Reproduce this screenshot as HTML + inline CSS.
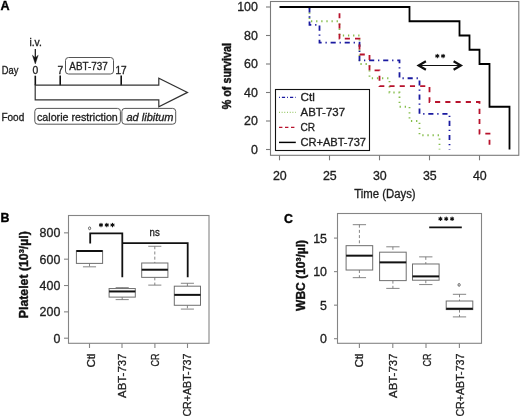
<!DOCTYPE html>
<html><head><meta charset="utf-8"><style>
html,body{margin:0;padding:0;background:#fff;overflow:hidden;}
svg{display:block;will-change:transform;}
text{font-family:"Liberation Sans", sans-serif;}
</style></head><body>
<svg width="520" height="419" viewBox="0 0 520 419" font-family='Liberation Sans, sans-serif'>
<rect width="520" height="419" fill="#fff"/>
<text x="0.5" y="10.3" font-size="12.6" font-weight="bold" fill="#000" stroke="#000" stroke-width="0.35">A</text>
<text x="29.4" y="46.0" font-size="10.3" textLength="12.4" lengthAdjust="spacingAndGlyphs" fill="#1e1e1e" stroke="#1e1e1e" stroke-width="0.32">i.v.</text>
<line x1="35.3" y1="48.9" x2="35.3" y2="60" stroke="#111" stroke-width="1.2"/>
<path d="M32.4,55.2 L35.3,57.8 L38.2,55.2 L35.3,63.9 Z" fill="#111" stroke="#111" stroke-width="0.4" stroke-linejoin="round"/>
<text x="1.8" y="73.5" font-size="10.3" textLength="16.6" lengthAdjust="spacingAndGlyphs" fill="#1e1e1e" stroke="#1e1e1e" stroke-width="0.32">Day</text>
<text x="32.6" y="73.5" font-size="10.3" fill="#1e1e1e" stroke="#1e1e1e" stroke-width="0.32">0</text>
<text x="57.5" y="73.5" font-size="10.3" fill="#1e1e1e" stroke="#1e1e1e" stroke-width="0.32">7</text>
<text x="115.4" y="73.7" font-size="10.1" textLength="11.2" lengthAdjust="spacingAndGlyphs" fill="#1e1e1e" stroke="#1e1e1e" stroke-width="0.32">17</text>
<rect x="65.5" y="57.5" width="48" height="16.5" rx="3" fill="none" stroke="#555" stroke-width="1"/>
<text x="69.3" y="69.9" font-size="10.6" textLength="38.4" lengthAdjust="spacingAndGlyphs" fill="#1e1e1e" stroke="#1e1e1e" stroke-width="0.32">ABT-737</text>
<line x1="35.3" y1="75.7" x2="35.3" y2="85.3" stroke="#111" stroke-width="1.6"/>
<line x1="60.2" y1="75.5" x2="60.2" y2="85.3" stroke="#111" stroke-width="1.6"/>
<line x1="121.2" y1="75.5" x2="121.2" y2="85.3" stroke="#111" stroke-width="1.6"/>
<path d="M35.2,85.2 L158.8,85.2 L158.8,78.3 L187.5,92.4 L158.8,106.7 L158.8,99.8 L35.2,99.8 Z" fill="none" stroke="#333" stroke-width="1.2" stroke-linejoin="miter"/>
<text x="1.4" y="120.9" font-size="10.8" textLength="22.9" lengthAdjust="spacingAndGlyphs" fill="#1e1e1e" stroke="#1e1e1e" stroke-width="0.32">Food</text>
<rect x="34.8" y="108.4" width="85.6" height="15.8" rx="3" fill="#fff" stroke="#555" stroke-width="1"/>
<rect x="121.9" y="108.4" width="53.8" height="15.8" rx="3" fill="#fff" stroke="#555" stroke-width="1"/>
<text x="37" y="121.0" font-size="10.8" textLength="80.8" lengthAdjust="spacingAndGlyphs" fill="#1e1e1e" stroke="#1e1e1e" stroke-width="0.32">calorie restriction</text>
<text x="126.5" y="120.6" font-size="10.8" font-style="italic" textLength="47.0" lengthAdjust="spacingAndGlyphs" fill="#1e1e1e" stroke="#1e1e1e" stroke-width="0.32">ad libitum</text>
<rect x="270.5" y="1.5" width="248.3" height="153.8" fill="none" stroke="#7a7a7a" stroke-width="1.1"/>
<line x1="266" y1="149.50" x2="270.5" y2="149.50" stroke="#7a7a7a" stroke-width="1.1"/>
<text x="257.9" y="153.95" font-size="12.4" text-anchor="end" fill="#1e1e1e" stroke="#1e1e1e" stroke-width="0.32">0</text>
<line x1="266" y1="121.00" x2="270.5" y2="121.00" stroke="#7a7a7a" stroke-width="1.1"/>
<text x="257.9" y="125.45" font-size="12.4" text-anchor="end" fill="#1e1e1e" stroke="#1e1e1e" stroke-width="0.32">20</text>
<line x1="266" y1="92.50" x2="270.5" y2="92.50" stroke="#7a7a7a" stroke-width="1.1"/>
<text x="257.9" y="96.95" font-size="12.4" text-anchor="end" fill="#1e1e1e" stroke="#1e1e1e" stroke-width="0.32">40</text>
<line x1="266" y1="64.00" x2="270.5" y2="64.00" stroke="#7a7a7a" stroke-width="1.1"/>
<text x="257.9" y="68.45" font-size="12.4" text-anchor="end" fill="#1e1e1e" stroke="#1e1e1e" stroke-width="0.32">60</text>
<line x1="266" y1="35.50" x2="270.5" y2="35.50" stroke="#7a7a7a" stroke-width="1.1"/>
<text x="257.9" y="39.95" font-size="12.4" text-anchor="end" fill="#1e1e1e" stroke="#1e1e1e" stroke-width="0.32">80</text>
<line x1="266" y1="7.00" x2="270.5" y2="7.00" stroke="#7a7a7a" stroke-width="1.1"/>
<text x="257.9" y="11.45" font-size="12.4" text-anchor="end" fill="#1e1e1e" stroke="#1e1e1e" stroke-width="0.32">100</text>
<line x1="279.5" y1="155.3" x2="279.5" y2="160.3" stroke="#7a7a7a" stroke-width="1.1"/>
<text x="279.8" y="179.9" font-size="12.4" text-anchor="middle" fill="#1e1e1e" stroke="#1e1e1e" stroke-width="0.32">20</text>
<line x1="329.5" y1="155.3" x2="329.5" y2="160.3" stroke="#7a7a7a" stroke-width="1.1"/>
<text x="329.8" y="179.9" font-size="12.4" text-anchor="middle" fill="#1e1e1e" stroke="#1e1e1e" stroke-width="0.32">25</text>
<line x1="379.5" y1="155.3" x2="379.5" y2="160.3" stroke="#7a7a7a" stroke-width="1.1"/>
<text x="379.8" y="179.9" font-size="12.4" text-anchor="middle" fill="#1e1e1e" stroke="#1e1e1e" stroke-width="0.32">30</text>
<line x1="429.5" y1="155.3" x2="429.5" y2="160.3" stroke="#7a7a7a" stroke-width="1.1"/>
<text x="429.8" y="179.9" font-size="12.4" text-anchor="middle" fill="#1e1e1e" stroke="#1e1e1e" stroke-width="0.32">35</text>
<line x1="479.5" y1="155.3" x2="479.5" y2="160.3" stroke="#7a7a7a" stroke-width="1.1"/>
<text x="479.8" y="179.9" font-size="12.4" text-anchor="middle" fill="#1e1e1e" stroke="#1e1e1e" stroke-width="0.32">40</text>
<text x="354.2" y="197.9" font-size="12" textLength="61.4" lengthAdjust="spacingAndGlyphs" fill="#1e1e1e" stroke="#1e1e1e" stroke-width="0.32">Time (Days)</text>
<text x="230.6" y="109.2" font-size="12.8" font-weight="bold" textLength="66.2" lengthAdjust="spacingAndGlyphs" transform="rotate(-90 230.6 109.2)" fill="#111" stroke="#111" stroke-width="0.45">% of survival</text>
<path d="M280.5,7.00 H309.5 V21.25 H339.5 V35.50 H359.5 V64.00 H369.5 V78.25 H389.5 V92.50 H399.5 V106.75 H409.5 V121.00 H419.5 V135.25 H439.5 V149.50" fill="none" stroke="#84bd4a" stroke-width="1.8" stroke-dasharray="1.280 3.840" stroke-dashoffset="201"/>
<path d="M280.5,7.00 H309.5 V24.81 H319.5 V42.62 H359.5 V60.44 H399.5 V78.25 H419.5 V113.88 H449.5 V149.50" fill="none" stroke="#1a1aa0" stroke-width="1.8" stroke-dasharray="1.280 3.840 5.120 3.840" stroke-dashoffset="201"/>
<path d="M280.5,7.00 H339.5 V38.67 H359.5 V54.50 H369.5 V70.33 H379.5 V86.17 H429.5 V102.00 H479.5 V133.67 H489.5 V149.50" fill="none" stroke="#b8122c" stroke-width="1.8" stroke-dasharray="5.120 5.120" stroke-dashoffset="201"/>
<path d="M279.5,7.00 H409.5 V21.25 H459.5 V35.50 H469.5 V49.75 H479.5 V64.00 H489.5 V106.75 H509.5 V149.50" fill="none" stroke="#000" stroke-width="1.8"/>
<rect x="275.5" y="89.5" width="94" height="61" fill="#fff" stroke="#111" stroke-width="1.1"/>
<line x1="279" y1="97.3" x2="295.8" y2="97.3" stroke="#1a1aa0" stroke-width="1.2" stroke-dasharray="0.9 2 3.2 2"/>
<text x="300.5" y="100.89999999999999" font-size="11" textLength="14.3" lengthAdjust="spacingAndGlyphs" fill="#1e1e1e" stroke="#1e1e1e" stroke-width="0.32">Ctl</text>
<line x1="279" y1="112.3" x2="295.8" y2="112.3" stroke="#84bd4a" stroke-width="1.2" stroke-dasharray="0.8 1.9"/>
<text x="300.5" y="115.89999999999999" font-size="11" textLength="44.5" lengthAdjust="spacingAndGlyphs" fill="#1e1e1e" stroke="#1e1e1e" stroke-width="0.32">ABT-737</text>
<line x1="279" y1="127.3" x2="295.8" y2="127.3" stroke="#b8122c" stroke-width="1.3" stroke-dasharray="3.4 2.6"/>
<text x="300.5" y="130.9" font-size="11" textLength="14.6" lengthAdjust="spacingAndGlyphs" fill="#1e1e1e" stroke="#1e1e1e" stroke-width="0.32">CR</text>
<line x1="279" y1="142.4" x2="295.8" y2="142.4" stroke="#000" stroke-width="1.45"/>
<text x="300.5" y="146.0" font-size="11" textLength="65.5" lengthAdjust="spacingAndGlyphs" fill="#1e1e1e" stroke="#1e1e1e" stroke-width="0.32">CR+ABT-737</text>
<line x1="418.5" y1="65.5" x2="460.7" y2="65.5" stroke="#111" stroke-width="1"/>
<path d="M425.9,61.2 L418.6,65.5 L425.9,69.8 M453.6,61.2 L460.9,65.5 L453.6,69.8" fill="none" stroke="#111" stroke-width="2.2"/>
<path d="M437.30,54.30L437.30,57.70M438.77,55.15L435.83,56.85M438.77,56.85L435.83,55.15" stroke="#111" stroke-width="1.15" stroke-linecap="round" fill="none"/>
<circle cx="437.3" cy="56" r="0.9" fill="#111"/>
<path d="M443.10,54.30L443.10,57.70M444.57,55.15L441.63,56.85M444.57,56.85L441.63,55.15" stroke="#111" stroke-width="1.15" stroke-linecap="round" fill="none"/>
<circle cx="443.1" cy="56" r="0.9" fill="#111"/>
<text x="0.6" y="222" font-size="12.4" font-weight="bold" fill="#000" stroke="#000" stroke-width="0.35">B</text>
<rect x="68.5" y="215.5" width="140.5" height="127.8" fill="none" stroke="#858585" stroke-width="1.1"/>
<line x1="64" y1="338.20" x2="68.5" y2="338.20" stroke="#858585" stroke-width="1.1"/>
<text x="60.3" y="342.65" font-size="12.4" text-anchor="end" fill="#1e1e1e" stroke="#1e1e1e" stroke-width="0.32">0</text>
<line x1="64" y1="311.86" x2="68.5" y2="311.86" stroke="#858585" stroke-width="1.1"/>
<text x="60.3" y="316.31" font-size="12.4" text-anchor="end" fill="#1e1e1e" stroke="#1e1e1e" stroke-width="0.32">200</text>
<line x1="64" y1="285.52" x2="68.5" y2="285.52" stroke="#858585" stroke-width="1.1"/>
<text x="60.3" y="289.96999999999997" font-size="12.4" text-anchor="end" fill="#1e1e1e" stroke="#1e1e1e" stroke-width="0.32">400</text>
<line x1="64" y1="259.18" x2="68.5" y2="259.18" stroke="#858585" stroke-width="1.1"/>
<text x="60.3" y="263.62999999999994" font-size="12.4" text-anchor="end" fill="#1e1e1e" stroke="#1e1e1e" stroke-width="0.32">600</text>
<line x1="64" y1="232.84" x2="68.5" y2="232.84" stroke="#858585" stroke-width="1.1"/>
<text x="60.3" y="237.28999999999996" font-size="12.4" text-anchor="end" fill="#1e1e1e" stroke="#1e1e1e" stroke-width="0.32">800</text>
<line x1="89.5" y1="343.3" x2="89.5" y2="348" stroke="#858585" stroke-width="1.1"/>
<line x1="122.0" y1="343.3" x2="122.0" y2="348" stroke="#858585" stroke-width="1.1"/>
<line x1="154.9" y1="343.3" x2="154.9" y2="348" stroke="#858585" stroke-width="1.1"/>
<line x1="187.5" y1="343.3" x2="187.5" y2="348" stroke="#858585" stroke-width="1.1"/>
<line x1="89.5" y1="250.75" x2="89.5" y2="250.75" stroke="#777" stroke-width="0.9" stroke-dasharray="3 2.2"/>
<line x1="89.5" y1="263.39" x2="89.5" y2="266.82" stroke="#777" stroke-width="0.9" stroke-dasharray="3 2.2"/>
<line x1="82.95" y1="250.75" x2="96.05" y2="250.75" stroke="#777" stroke-width="0.9"/>
<line x1="82.95" y1="266.82" x2="96.05" y2="266.82" stroke="#777" stroke-width="0.9"/>
<rect x="76.4" y="250.75" width="26.2" height="12.64" fill="#fff" stroke="#6e6e6e" stroke-width="1"/>
<line x1="76.4" y1="251.01" x2="102.60000000000001" y2="251.01" stroke="#111" stroke-width="2"/>
<line x1="122.2" y1="287.63" x2="122.2" y2="288.55" stroke="#777" stroke-width="0.9" stroke-dasharray="3 2.2"/>
<line x1="122.2" y1="297.11" x2="122.2" y2="299.61" stroke="#777" stroke-width="0.9" stroke-dasharray="3 2.2"/>
<line x1="115.65" y1="287.63" x2="128.75" y2="287.63" stroke="#777" stroke-width="0.9"/>
<line x1="115.65" y1="299.61" x2="128.75" y2="299.61" stroke="#777" stroke-width="0.9"/>
<rect x="109.10000000000001" y="288.55" width="26.2" height="8.56" fill="#fff" stroke="#6e6e6e" stroke-width="1"/>
<line x1="109.10000000000001" y1="291.45" x2="135.3" y2="291.45" stroke="#111" stroke-width="2"/>
<line x1="154.8" y1="246.27" x2="154.8" y2="263.00" stroke="#777" stroke-width="0.9" stroke-dasharray="3 2.2"/>
<line x1="154.8" y1="277.35" x2="154.8" y2="285.12" stroke="#777" stroke-width="0.9" stroke-dasharray="3 2.2"/>
<line x1="148.25" y1="246.27" x2="161.35000000000002" y2="246.27" stroke="#777" stroke-width="0.9"/>
<line x1="148.25" y1="285.12" x2="161.35000000000002" y2="285.12" stroke="#777" stroke-width="0.9"/>
<rect x="141.70000000000002" y="263.00" width="26.2" height="14.36" fill="#fff" stroke="#6e6e6e" stroke-width="1"/>
<line x1="141.70000000000002" y1="269.72" x2="167.9" y2="269.72" stroke="#111" stroke-width="2"/>
<line x1="187.4" y1="283.28" x2="187.4" y2="286.18" stroke="#777" stroke-width="0.9" stroke-dasharray="3 2.2"/>
<line x1="187.4" y1="305.27" x2="187.4" y2="309.09" stroke="#777" stroke-width="0.9" stroke-dasharray="3 2.2"/>
<line x1="180.85" y1="283.28" x2="193.95000000000002" y2="283.28" stroke="#777" stroke-width="0.9"/>
<line x1="180.85" y1="309.09" x2="193.95000000000002" y2="309.09" stroke="#777" stroke-width="0.9"/>
<rect x="174.3" y="286.18" width="26.2" height="19.10" fill="#fff" stroke="#6e6e6e" stroke-width="1"/>
<line x1="174.3" y1="294.87" x2="200.5" y2="294.87" stroke="#111" stroke-width="2"/>
<ellipse cx="89.6" cy="228.3" rx="1.1" ry="1.4" fill="none" stroke="#444" stroke-width="0.8"/>
<path d="M90.2,243.4 V233.3 H122.3 V277.2 M122.3,243.2 H187.7 V277.2" fill="none" stroke="#111" stroke-width="1.8"/>
<path d="M101.00,223.30L101.00,226.70M102.47,224.15L99.53,225.85M102.47,225.85L99.53,224.15" stroke="#111" stroke-width="1.15" stroke-linecap="round" fill="none"/>
<circle cx="101" cy="225" r="0.9" fill="#111"/>
<path d="M106.80,223.30L106.80,226.70M108.27,224.15L105.33,225.85M108.27,225.85L105.33,224.15" stroke="#111" stroke-width="1.15" stroke-linecap="round" fill="none"/>
<circle cx="106.8" cy="225" r="0.9" fill="#111"/>
<path d="M112.50,223.30L112.50,226.70M113.97,224.15L111.03,225.85M113.97,225.85L111.03,224.15" stroke="#111" stroke-width="1.15" stroke-linecap="round" fill="none"/>
<circle cx="112.5" cy="225" r="0.9" fill="#111"/>
<text x="149.6" y="235.6" font-size="10.8" textLength="10.2" lengthAdjust="spacingAndGlyphs" fill="#1e1e1e" stroke="#1e1e1e" stroke-width="0.32">ns</text>
<text x="28.3" y="318.2" font-size="12" font-weight="bold" textLength="87" lengthAdjust="spacingAndGlyphs" transform="rotate(-90 28.3 318.2)" fill="#111" stroke="#111" stroke-width="0.4">Platelet (10³/µl)</text>
<text x="94.8" y="353.6" font-size="11.5" text-anchor="end" textLength="14.0" lengthAdjust="spacingAndGlyphs" transform="rotate(-90 94.8 353.6)" fill="#1e1e1e" stroke="#1e1e1e" stroke-width="0.32">Ctl</text>
<text x="126.39999999999999" y="353.6" font-size="11.5" text-anchor="end" textLength="44.3" lengthAdjust="spacingAndGlyphs" transform="rotate(-90 126.39999999999999 353.6)" fill="#1e1e1e" stroke="#1e1e1e" stroke-width="0.32">ABT-737</text>
<text x="159.2" y="353.6" font-size="11.5" text-anchor="end" textLength="13.0" lengthAdjust="spacingAndGlyphs" transform="rotate(-90 159.2 353.6)" fill="#1e1e1e" stroke="#1e1e1e" stroke-width="0.32">CR</text>
<text x="190.79999999999998" y="353.6" font-size="11.5" text-anchor="end" textLength="63.0" lengthAdjust="spacingAndGlyphs" transform="rotate(-90 190.79999999999998 353.6)" fill="#1e1e1e" stroke="#1e1e1e" stroke-width="0.32">CR+ABT-737</text>
<text x="284.1" y="222.5" font-size="12.4" font-weight="bold" fill="#000" stroke="#000" stroke-width="0.35">C</text>
<rect x="337.5" y="213.5" width="144" height="129.8" fill="none" stroke="#858585" stroke-width="1.1"/>
<line x1="334" y1="338.70" x2="337.5" y2="338.70" stroke="#858585" stroke-width="1.1"/>
<text x="327" y="343.15" font-size="12.4" text-anchor="end" fill="#1e1e1e" stroke="#1e1e1e" stroke-width="0.32">0</text>
<line x1="334" y1="305.16" x2="337.5" y2="305.16" stroke="#858585" stroke-width="1.1"/>
<text x="327" y="309.61499999999995" font-size="12.4" text-anchor="end" fill="#1e1e1e" stroke="#1e1e1e" stroke-width="0.32">5</text>
<line x1="334" y1="271.63" x2="337.5" y2="271.63" stroke="#858585" stroke-width="1.1"/>
<text x="327" y="276.08" font-size="12.4" text-anchor="end" fill="#1e1e1e" stroke="#1e1e1e" stroke-width="0.32">10</text>
<line x1="334" y1="238.09" x2="337.5" y2="238.09" stroke="#858585" stroke-width="1.1"/>
<text x="327" y="242.54499999999996" font-size="12.4" text-anchor="end" fill="#1e1e1e" stroke="#1e1e1e" stroke-width="0.32">15</text>
<line x1="359.4" y1="343.3" x2="359.4" y2="348" stroke="#858585" stroke-width="1.1"/>
<line x1="392.8" y1="343.3" x2="392.8" y2="348" stroke="#858585" stroke-width="1.1"/>
<line x1="426.0" y1="343.3" x2="426.0" y2="348" stroke="#858585" stroke-width="1.1"/>
<line x1="459.4" y1="343.3" x2="459.4" y2="348" stroke="#858585" stroke-width="1.1"/>
<line x1="359.4" y1="224.68" x2="359.4" y2="245.67" stroke="#777" stroke-width="0.9" stroke-dasharray="3 2.2"/>
<line x1="359.4" y1="270.02" x2="359.4" y2="277.67" stroke="#777" stroke-width="0.9" stroke-dasharray="3 2.2"/>
<line x1="352.75" y1="224.68" x2="366.04999999999995" y2="224.68" stroke="#777" stroke-width="0.9"/>
<line x1="352.75" y1="277.67" x2="366.04999999999995" y2="277.67" stroke="#777" stroke-width="0.9"/>
<rect x="346.09999999999997" y="245.67" width="26.6" height="24.35" fill="#fff" stroke="#6e6e6e" stroke-width="1"/>
<line x1="346.09999999999997" y1="255.67" x2="372.7" y2="255.67" stroke="#111" stroke-width="2"/>
<line x1="392.9" y1="246.81" x2="392.9" y2="252.18" stroke="#777" stroke-width="0.9" stroke-dasharray="3 2.2"/>
<line x1="392.9" y1="280.62" x2="392.9" y2="288.40" stroke="#777" stroke-width="0.9" stroke-dasharray="3 2.2"/>
<line x1="386.25" y1="246.81" x2="399.54999999999995" y2="246.81" stroke="#777" stroke-width="0.9"/>
<line x1="386.25" y1="288.40" x2="399.54999999999995" y2="288.40" stroke="#777" stroke-width="0.9"/>
<rect x="379.59999999999997" y="252.18" width="26.6" height="28.44" fill="#fff" stroke="#6e6e6e" stroke-width="1"/>
<line x1="379.59999999999997" y1="262.37" x2="406.2" y2="262.37" stroke="#111" stroke-width="2"/>
<line x1="425.8" y1="256.87" x2="425.8" y2="263.98" stroke="#777" stroke-width="0.9" stroke-dasharray="3 2.2"/>
<line x1="425.8" y1="280.21" x2="425.8" y2="284.57" stroke="#777" stroke-width="0.9" stroke-dasharray="3 2.2"/>
<line x1="419.15000000000003" y1="256.87" x2="432.45" y2="256.87" stroke="#777" stroke-width="0.9"/>
<line x1="419.15000000000003" y1="284.57" x2="432.45" y2="284.57" stroke="#777" stroke-width="0.9"/>
<rect x="412.5" y="263.98" width="26.6" height="16.23" fill="#fff" stroke="#6e6e6e" stroke-width="1"/>
<line x1="412.5" y1="276.39" x2="439.1" y2="276.39" stroke="#111" stroke-width="2"/>
<line x1="459.5" y1="294.30" x2="459.5" y2="301.01" stroke="#777" stroke-width="0.9" stroke-dasharray="3 2.2"/>
<line x1="459.5" y1="309.59" x2="459.5" y2="316.90" stroke="#777" stroke-width="0.9" stroke-dasharray="3 2.2"/>
<line x1="452.85" y1="294.30" x2="466.15" y2="294.30" stroke="#777" stroke-width="0.9"/>
<line x1="452.85" y1="316.90" x2="466.15" y2="316.90" stroke="#777" stroke-width="0.9"/>
<rect x="446.2" y="301.01" width="26.6" height="8.58" fill="#fff" stroke="#6e6e6e" stroke-width="1"/>
<line x1="446.2" y1="308.72" x2="472.8" y2="308.72" stroke="#111" stroke-width="2"/>
<ellipse cx="459.1" cy="284.9" rx="1.1" ry="1.4" fill="none" stroke="#444" stroke-width="0.8"/>
<line x1="429.2" y1="227.3" x2="461.8" y2="227.3" stroke="#111" stroke-width="1.8"/>
<path d="M440.40,217.10L440.40,220.50M441.87,217.95L438.93,219.65M441.87,219.65L438.93,217.95" stroke="#111" stroke-width="1.15" stroke-linecap="round" fill="none"/>
<circle cx="440.4" cy="218.8" r="0.9" fill="#111"/>
<path d="M446.20,217.10L446.20,220.50M447.67,217.95L444.73,219.65M447.67,219.65L444.73,217.95" stroke="#111" stroke-width="1.15" stroke-linecap="round" fill="none"/>
<circle cx="446.2" cy="218.8" r="0.9" fill="#111"/>
<path d="M452.10,217.10L452.10,220.50M453.57,217.95L450.63,219.65M453.57,219.65L450.63,217.95" stroke="#111" stroke-width="1.15" stroke-linecap="round" fill="none"/>
<circle cx="452.1" cy="218.8" r="0.9" fill="#111"/>
<text x="305.5" y="310.9" font-size="12" font-weight="bold" textLength="71" lengthAdjust="spacingAndGlyphs" transform="rotate(-90 305.5 310.9)" fill="#111" stroke="#111" stroke-width="0.4">WBC (10³/µl)</text>
<text x="362.90000000000003" y="353.6" font-size="11.5" text-anchor="end" textLength="14.0" lengthAdjust="spacingAndGlyphs" transform="rotate(-90 362.90000000000003 353.6)" fill="#1e1e1e" stroke="#1e1e1e" stroke-width="0.32">Ctl</text>
<text x="397.20000000000005" y="353.6" font-size="11.5" text-anchor="end" textLength="44.3" lengthAdjust="spacingAndGlyphs" transform="rotate(-90 397.20000000000005 353.6)" fill="#1e1e1e" stroke="#1e1e1e" stroke-width="0.32">ABT-737</text>
<text x="430.6" y="353.6" font-size="11.5" text-anchor="end" textLength="13.0" lengthAdjust="spacingAndGlyphs" transform="rotate(-90 430.6 353.6)" fill="#1e1e1e" stroke="#1e1e1e" stroke-width="0.32">CR</text>
<text x="463.6" y="353.6" font-size="11.5" text-anchor="end" textLength="63.0" lengthAdjust="spacingAndGlyphs" transform="rotate(-90 463.6 353.6)" fill="#1e1e1e" stroke="#1e1e1e" stroke-width="0.32">CR+ABT-737</text>
</svg>
</body></html>
